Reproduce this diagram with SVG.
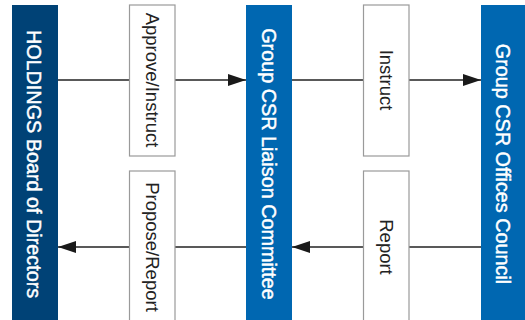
<svg xmlns="http://www.w3.org/2000/svg" width="525" height="320" viewBox="0 0 525 320">
  <style>
    .org { font-family: "Liberation Sans", Arial, sans-serif; font-weight: normal; font-size: 19.8px; fill: #ffffff; stroke: #ffffff; stroke-width: 0.45; text-anchor: middle; dominant-baseline: central; }
    .lbl { font-family: "Liberation Sans", Arial, sans-serif; font-size: 18.5px; fill: #222222; text-anchor: middle; dominant-baseline: central; }
    .tag { fill: #ffffff; stroke: #9a9a9a; stroke-width: 1.2; }
    .link { stroke: #222222; stroke-width: 1.4; fill: none; }
  </style>
  <defs>
    <marker id="arrow" markerWidth="18" markerHeight="12" refX="18" refY="6" orient="auto" markerUnits="userSpaceOnUse">
      <path d="M0,0 L18,6 L0,12 Z" fill="#1a1a1a"/>
    </marker>
  </defs>
  <rect width="525" height="320" fill="#ffffff"/>

  <!-- connectors -->
  <g id="connectors">
    <line class="link" x1="58" y1="80" x2="246" y2="80" marker-end="url(#arrow)"/>
    <line class="link" x1="292" y1="80" x2="481" y2="80" marker-end="url(#arrow)"/>
    <line class="link" x1="481" y1="247" x2="292" y2="247" marker-end="url(#arrow)"/>
    <line class="link" x1="246" y1="247" x2="58" y2="247" marker-end="url(#arrow)"/>
  </g>

  <!-- connector labels -->
  <g id="label-approve">
    <rect class="tag" x="129.5" y="5" width="45.5" height="151"/>
    <text class="lbl" transform="translate(152,80) rotate(90)">Approve/Instruct</text>
  </g>
  <g id="label-propose">
    <rect class="tag" x="129.5" y="171" width="45.5" height="160"/>
    <text class="lbl" transform="translate(152,247) rotate(90)">Propose/Report</text>
  </g>
  <g id="label-instruct">
    <rect class="tag" x="363.5" y="5" width="45.5" height="151"/>
    <text class="lbl" transform="translate(386,80) rotate(90)">Instruct</text>
  </g>
  <g id="label-report">
    <rect class="tag" x="363.5" y="171" width="45.5" height="160"/>
    <text class="lbl" transform="translate(386,247) rotate(90)">Report</text>
  </g>

  <!-- organisation nodes -->
  <g id="board">
    <rect x="12" y="5" width="46" height="320" fill="#004276"/>
    <text class="org" transform="translate(34,164) rotate(90)">HOLDINGS Board of Directors</text>
  </g>
  <g id="liaison">
    <rect x="246" y="5" width="46" height="320" fill="#0067b1"/>
    <text class="org" transform="translate(269,164) rotate(90)">Group CSR Liaison Committee</text>
  </g>
  <g id="offices">
    <rect x="481" y="5" width="44" height="320" fill="#0067b1"/>
    <text class="org" transform="translate(503,164) rotate(90)">Group CSR Offices Council</text>
  </g>
</svg>
